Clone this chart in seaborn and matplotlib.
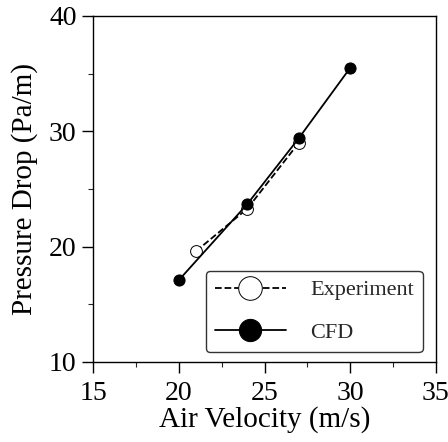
import matplotlib
matplotlib.use("Agg")
import matplotlib.pyplot as plt
import seaborn as sns
import pandas as pd
from matplotlib.ticker import MultipleLocator

# 数据
exp_velocity = [21, 24, 27]
exp_pressure = [19.6, 23.3, 29.0]
cfd_velocity = [20, 24, 27, 30]
cfd_pressure = [17.1, 23.7, 29.4, 35.5]

sns.set_theme(style="ticks")
plt.rcParams["font.family"] = ["Liberation Serif", "DejaVu Serif"]

df_exp = pd.DataFrame({"v": exp_velocity, "p": exp_pressure})
df_cfd = pd.DataFrame({"v": cfd_velocity, "p": cfd_pressure})

fig = plt.figure(figsize=(4.48, 4.42), dpi=100)
ax = fig.add_axes([0.208, 0.181, 0.765, 0.783])

sns.lineplot(
    data=df_exp, x="v", y="p", ax=ax, color="black", linestyle="--",
    linewidth=1.3, marker="o", markersize=8.5, markerfacecolor="white",
    markeredgecolor="black", markeredgewidth=0.7, label="Experiment",
)
sns.lineplot(
    data=df_cfd, x="v", y="p", ax=ax, color="black", linestyle="-",
    linewidth=1.3, marker="o", markersize=8, markerfacecolor="black",
    markeredgecolor="black", label="CFD",
)

ax.set_xlim(15, 35)
ax.set_ylim(10, 40)
ax.xaxis.set_major_locator(MultipleLocator(5))
ax.xaxis.set_minor_locator(MultipleLocator(2.5))
ax.yaxis.set_major_locator(MultipleLocator(10))
ax.yaxis.set_minor_locator(MultipleLocator(5))
ax.tick_params(which="major", direction="out", length=8, width=1,
               labelsize=20, colors="black", pad=4)
ax.tick_params(axis="x", which="major", pad=6)
ax.tick_params(which="minor", direction="out", length=3.5, width=0.8)
for s in ax.spines.values():
    s.set_color("black")
    s.set_linewidth(1)

ax.set_xlabel("Air Velocity (m/s)", fontsize=21, color="black", labelpad=0)
ax.set_ylabel("Pressure Drop (Pa/m)", fontsize=21, color="black", labelpad=8)

leg = ax.legend(
    loc="lower right", bbox_to_anchor=(0.962, 0.029), fontsize=16,
    markerscale=2.0, handlelength=3.2, labelspacing=1.0,
    borderpad=0.4, borderaxespad=0, handletextpad=1.1,
    frameon=True, fancybox=True,
)
leg.get_frame().set_edgecolor("black")
leg.get_frame().set_linewidth(1)

fig.savefig("out.png", dpi=100)
